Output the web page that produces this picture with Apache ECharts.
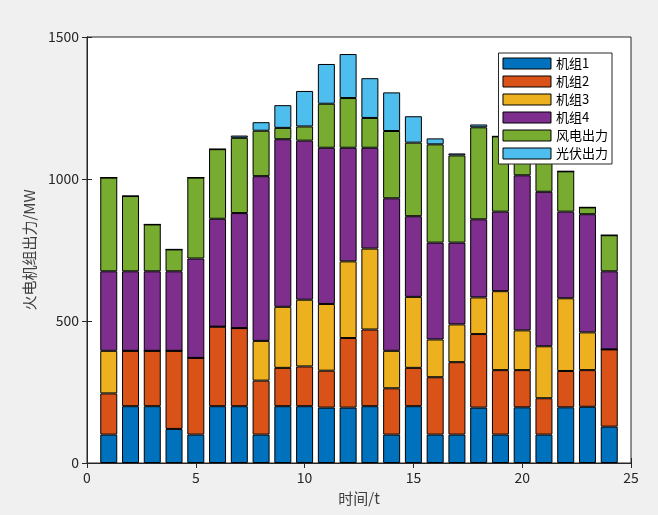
<!DOCTYPE html>
<html><head><meta charset="utf-8">
<script src="https://cdn.jsdelivr.net/npm/echarts@6/dist/echarts.min.js"></script>
<style>html,body{margin:0;background:#f0f0f0}#c{width:658px;height:515px}</style>
</head><body><div id="c"></div>
<script>
var hours = [1,2,3,4,5,6,7,8,9,10,11,12,13,14,15,16,17,18,19,20,21,22,23,24];
var names = ['机组1','机组2','机组3','机组4','风电出力','光伏出力'];
var colors = ['#0072bd','#d95319','#edb120','#7e2f8e','#77ac30','#4dbeee'];
var unit1 = [100,200,200,120,100,200,200,100,200,200,195,195,200,100,200,100,100,195,100,196,100,196,198,128];
var unit2 = [145,195,195,275,270,280,275,190,135,140,130,245,270,163,135,202,255,259,227,131,128,128,129,272];
var unit3 = [150,0,0,0,0,0,0,140,215,235,235,270,285,132,250,133,133,129,278,140,183,256,133,0];
var unit4 = [280,280,280,280,350,380,405,580,590,560,550,400,355,537,284,341,288,275,280,546,544,305,416,275];
var wind = [330,265,165,77,285,245,265,160,40,50,155,175,105,237,259,346,307,324,265,127,145,142,24,127];
var solar = [0,0,0,0,0,0,8,30,80,125,140,155,140,136,93,21,7,10,0,0,0,0,0,0];
var all = [unit1,unit2,unit3,unit4,wind,solar];

// hidden category axis 0..25 so the bars sit on the hour positions and stack
var slots = [];
for (var i = 0; i <= 25; i++) slots.push(String(i));

var chart = echarts.init(document.getElementById('c'));
var font = 'Noto Sans CJK SC';
var series = all.map(function (arr, i) {
  var d = slots.map(function () { return '-'; });
  arr.forEach(function (v, k) { d[hours[k]] = v; });
  return {
    name: names[i], type: 'bar', stack: 'p', barWidth: 17, xAxisIndex: 2,
    itemStyle: {color: colors[i], borderColor: '#000', borderWidth: 1},
    data: d
  };
});
chart.setOption({
  animation: false,
  textStyle: {fontFamily: font},
  grid: {left: 87, right: 27, top: 37, bottom: 52, show: true, backgroundColor: '#fff', borderColor: '#262626'},
  legend: {
    orient: 'vertical', right: 46, top: 53, itemWidth: 48, itemHeight: 11, itemGap: 5,
    backgroundColor: '#fff', borderColor: '#262626', borderWidth: 1, padding: [4, 4, 4, 4],
    textStyle: {fontSize: 13, color: '#000', fontFamily: font}, icon: 'rect',
    itemStyle: {borderColor: '#000', borderWidth: 1}
  },
  xAxis: [{
    type: 'value', min: 0, max: 25, interval: 5,
    name: '时间/t', nameLocation: 'middle', nameGap: 28, nameTextStyle: {fontSize: 15, color: '#404040'},
    axisLine: {lineStyle: {color: '#262626'}}, axisTick: {inside: true, length: 5},
    axisLabel: {color: '#262626', fontSize: 14}, splitLine: {show: false}
  }, {
    type: 'value', position: 'top', min: 0, max: 25, interval: 5,
    axisLine: {lineStyle: {color: '#262626'}}, axisTick: {inside: true, length: 5},
    axisLabel: {show: false}, splitLine: {show: false}
  }, {
    type: 'category', data: slots, boundaryGap: false, show: false
  }],
  yAxis: [{
    type: 'value', min: 0, max: 1500, interval: 500,
    name: '火电机组出力/MW', nameLocation: 'middle', nameGap: 50, nameTextStyle: {fontSize: 15, color: '#404040'},
    axisLine: {show: true, lineStyle: {color: '#262626'}}, axisTick: {show: true, inside: true, length: 5},
    axisLabel: {color: '#262626', fontSize: 14, formatter: function (v) { return String(v); }}, splitLine: {show: false}
  }, {
    type: 'value', position: 'right', min: 0, max: 1500, interval: 500,
    axisLine: {show: true, lineStyle: {color: '#262626'}}, axisTick: {show: true, inside: true, length: 5},
    axisLabel: {show: false}, splitLine: {show: false}
  }],
  series: series
});
</script></body></html>
